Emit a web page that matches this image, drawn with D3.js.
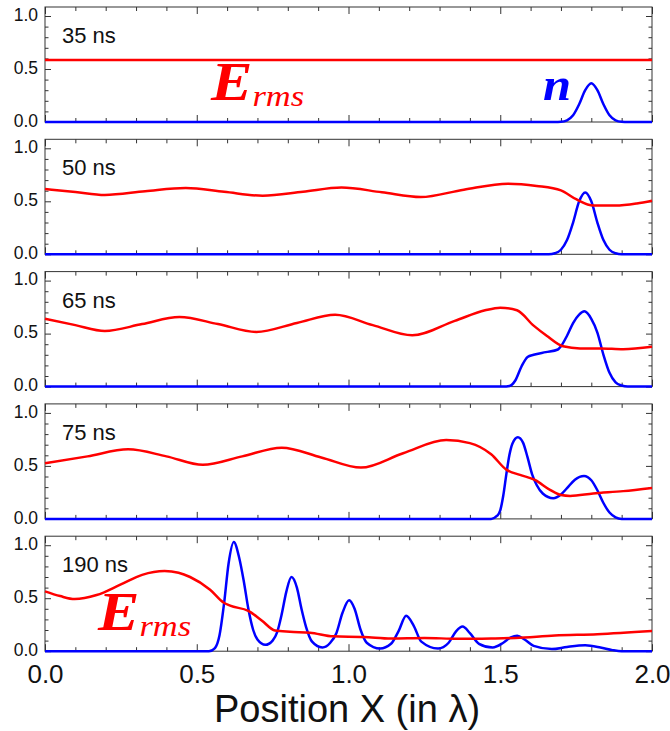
<!DOCTYPE html>
<html>
<head>
<meta charset="utf-8">
<script src="https://cdn.jsdelivr.net/npm/d3@7"></script>
<style>
  body { margin: 0; background: #fff; }
  svg { display: block; }
</style>
</head>
<body>
<div id="chart"></div>
<script>
// panel labels and tick values
const panelLabels = ["35 ns", "50 ns", "65 ns", "75 ns", "190 ns"];
const xTicks = [0, 0.5, 1, 1.5, 2];
const yTicks = [0, 0.5, 1];

// E_rms curves [x, value]
const e35 = [[0, 0.585], [0.5, 0.585], [1, 0.585], [1.5, 0.585], [2, 0.585]];
const e50 = [[0, 0.616], [0.1, 0.588], [0.197, 0.56], [0.33, 0.595], [0.464, 0.625], [0.59, 0.59],
  [0.717, 0.553], [0.85, 0.59], [0.977, 0.63], [1.11, 0.585], [1.238, 0.54], [1.38, 0.61],
  [1.526, 0.666], [1.62, 0.645], [1.70, 0.603], [1.75, 0.52], [1.807, 0.46], [1.88, 0.46],
  [1.95, 0.48], [2.0, 0.506]];
const e65 = [[0, 0.64], [0.1, 0.58], [0.197, 0.525], [0.32, 0.59], [0.443, 0.656], [0.57, 0.59],
  [0.696, 0.516], [0.83, 0.6], [0.956, 0.678], [1.08, 0.58], [1.21, 0.484], [1.35, 0.62],
  [1.45, 0.72], [1.50, 0.745], [1.555, 0.72], [1.61, 0.575], [1.653, 0.48], [1.707, 0.38],
  [1.763, 0.36], [1.83, 0.36], [1.905, 0.352], [2.0, 0.375]];
const e75 = [[0, 0.525], [0.14, 0.59], [0.274, 0.656], [0.4, 0.59], [0.52, 0.51], [0.65, 0.59],
  [0.78, 0.672], [0.91, 0.58], [1.041, 0.484], [1.18, 0.62], [1.322, 0.744], [1.40, 0.715],
  [1.47, 0.61], [1.52, 0.465], [1.565, 0.415], [1.614, 0.368], [1.664, 0.274], [1.70, 0.225],
  [1.73, 0.217], [1.806, 0.24], [1.905, 0.262], [2.0, 0.292]];
const e190 = [[0, 0.565], [0.05, 0.52], [0.098, 0.492], [0.17, 0.53], [0.25, 0.63], [0.32, 0.72],
  [0.394, 0.756], [0.44, 0.74], [0.478, 0.70], [0.544, 0.58], [0.588, 0.46], [0.61, 0.43],
  [0.67, 0.38], [0.714, 0.29], [0.758, 0.195], [0.807, 0.183], [0.873, 0.175], [0.95, 0.14],
  [1.05, 0.135], [1.14, 0.12], [1.25, 0.125], [1.36, 0.117], [1.47, 0.12], [1.55, 0.125],
  [1.68, 0.148], [1.82, 0.16], [2.0, 0.19]];

// density n curves [x, value]
const n35 = [[0, 0], [1.68, 0], [1.70, 0.002], [1.72, 0.016], [1.74, 0.063], [1.76, 0.167],
  [1.78, 0.30], [1.80, 0.365], [1.82, 0.30], [1.84, 0.167], [1.86, 0.063], [1.88, 0.016],
  [1.90, 0.002], [1.92, 0], [2, 0]];
const n50 = [[0, 0], [1.66, 0], [1.68, 0.01], [1.70, 0.043], [1.72, 0.134], [1.74, 0.30],
  [1.76, 0.50], [1.78, 0.584], [1.80, 0.50], [1.82, 0.30], [1.84, 0.134], [1.86, 0.043],
  [1.88, 0.01], [1.90, 0], [2, 0]];
const n65 = [[0, 0], [1.51, 0], [1.53, 0.005], [1.55, 0.06], [1.57, 0.19], [1.59, 0.28],
  [1.61, 0.30], [1.65, 0.325], [1.69, 0.35], [1.70, 0.38], [1.72, 0.48], [1.74, 0.60],
  [1.76, 0.68], [1.777, 0.71], [1.80, 0.64], [1.82, 0.51], [1.84, 0.30], [1.86, 0.13],
  [1.88, 0.04], [1.90, 0.01], [1.92, 0], [2, 0]];
const n75 = [[0, 0], [1.47, 0], [1.49, 0.03], [1.50, 0.08], [1.51, 0.22], [1.52, 0.42],
  [1.53, 0.60], [1.54, 0.71], [1.558, 0.77], [1.575, 0.72], [1.59, 0.58], [1.605, 0.42],
  [1.62, 0.32], [1.64, 0.24], [1.675, 0.195], [1.70, 0.23], [1.72, 0.29], [1.746, 0.37],
  [1.776, 0.405], [1.80, 0.365], [1.82, 0.27], [1.84, 0.15], [1.86, 0.06], [1.88, 0.015],
  [1.90, 0], [2, 0]];
const n190 = [[0, 0], [0.54, 0], [0.56, 0.03], [0.575, 0.15], [0.59, 0.45], [0.605, 0.83],
  [0.622, 1.03], [0.64, 0.88], [0.655, 0.66], [0.67, 0.40], [0.686, 0.20], [0.70, 0.11],
  [0.726, 0.06], [0.75, 0.10], [0.765, 0.18], [0.78, 0.35], [0.795, 0.56], [0.812, 0.70],
  [0.83, 0.60], [0.845, 0.40], [0.86, 0.23], [0.88, 0.09], [0.914, 0.035], [0.94, 0.08],
  [0.96, 0.17], [0.98, 0.36], [1.002, 0.48], [1.02, 0.40], [1.04, 0.20], [1.06, 0.08],
  [1.104, 0.025], [1.14, 0.07], [1.165, 0.19], [1.19, 0.335], [1.215, 0.24], [1.24, 0.09],
  [1.295, 0.025], [1.33, 0.08], [1.355, 0.19], [1.376, 0.232], [1.40, 0.17], [1.43, 0.07],
  [1.475, 0.035], [1.51, 0.08], [1.535, 0.13], [1.556, 0.145], [1.58, 0.11], [1.61, 0.05],
  [1.67, 0.02], [1.72, 0.04], [1.78, 0.055], [1.83, 0.035], [1.87, 0.01], [1.90, 0], [2.0, 0]];

const eSeries = [e35, e50, e65, e75, e190];
const nSeries = [n35, n50, n65, n75, n190];

// layout
const width = 670;
const height = 731;
const left = 45, right = 652;
const panelTop0 = 7, panelH = 115, panelStep = 132.3;
const sans = "Liberation Sans, Arial, Helvetica, sans-serif";
const serif = "Liberation Serif, Times New Roman, serif";

const svg = d3.select("#chart")
  .append("svg")
  .attr("width", width)
  .attr("height", height);

const x = d3.scaleLinear().domain([0, 2]).range([left, right]);

const xMinor = d3.range(0, 21).map(i => i / 10).filter(v => !xTicks.includes(v));
const yMinor = d3.range(0, 11).map(i => i / 10).filter(v => !yTicks.includes(v));

const line = (y) => d3.line()
  .x(d => x(d[0]))
  .y(d => y(d[1]))
  .curve(d3.curveMonotoneX);

function styleAxis(g) {
  g.select(".domain").remove();
  g.selectAll(".tick line").attr("stroke", "#333").attr("stroke-width", 1);
}

panelLabels.forEach((label, i) => {
  const top = panelTop0 + i * panelStep;
  const bottom = top + panelH;
  const y = d3.scaleLinear().domain([0, 1.085]).range([bottom, top]);
  const g = svg.append("g");

  // inward ticks on all four sides
  g.append("g").attr("transform", `translate(${left},0)`)
    .call(d3.axisLeft(y).tickValues(yTicks).tickFormat(d3.format(".1f")).tickSize(-6).tickPadding(7))
    .call(styleAxis)
    .call(a => a.selectAll("text")
      .attr("y", -1.5)
      .style("font-family", sans)
      .style("font-size", "17.5px")
      .attr("fill", "#111"));
  g.append("g").attr("transform", `translate(${left},0)`)
    .call(d3.axisLeft(y).tickValues(yMinor).tickFormat("").tickSize(-3.5))
    .call(styleAxis);
  g.append("g").attr("transform", `translate(${right},0)`)
    .call(d3.axisRight(y).tickValues(yTicks).tickFormat("").tickSize(-6))
    .call(styleAxis);
  g.append("g").attr("transform", `translate(${right},0)`)
    .call(d3.axisRight(y).tickValues(yMinor).tickFormat("").tickSize(-3.5))
    .call(styleAxis);
  g.append("g").attr("transform", `translate(0,${top})`)
    .call(d3.axisTop(x).tickValues(xTicks).tickFormat("").tickSize(-7))
    .call(styleAxis);
  g.append("g").attr("transform", `translate(0,${top})`)
    .call(d3.axisTop(x).tickValues(xMinor).tickFormat("").tickSize(-4))
    .call(styleAxis);

  const xb = d3.axisBottom(x).tickValues(xTicks).tickSize(-7).tickPadding(13)
    .tickFormat(i === panelLabels.length - 1 ? d3.format(".1f") : "");
  g.append("g").attr("transform", `translate(0,${bottom})`)
    .call(xb)
    .call(styleAxis)
    .call(a => a.selectAll("text")
      .style("font-family", sans)
      .style("font-size", "26px")
      .attr("fill", "#111"));
  g.append("g").attr("transform", `translate(0,${bottom})`)
    .call(d3.axisBottom(x).tickValues(xMinor).tickFormat("").tickSize(-4))
    .call(styleAxis);

  // frame
  g.append("rect")
    .attr("x", left).attr("y", top)
    .attr("width", right - left).attr("height", panelH)
    .attr("fill", "none")
    .attr("stroke", "#333")
    .attr("stroke-width", 1);

  // curves
  g.append("path")
    .datum(nSeries[i])
    .attr("d", line(y))
    .attr("fill", "none")
    .attr("stroke", "#0000ff")
    .attr("stroke-width", 2.5);
  g.append("path")
    .datum(eSeries[i])
    .attr("d", line(y))
    .attr("fill", "none")
    .attr("stroke", "#ff0000")
    .attr("stroke-width", 2.5);

  // time label
  g.append("text")
    .attr("x", 62)
    .attr("y", top + 36)
    .style("font-family", sans)
    .style("font-size", "22px")
    .attr("fill", "#111")
    .text(label);
});

// E_rms and n annotations
function ermsLabel(px, py) {
  const t = svg.append("text")
    .attr("transform", `translate(${px},${py}) scale(1.15,1)`)
    .style("font-family", serif)
    .style("font-style", "italic")
    .attr("fill", "#ff0000");
  t.append("tspan").style("font-weight", "bold").style("font-size", "54px").text("E");
  t.append("tspan").attr("dy", 6).style("font-size", "30px").text("rms");
}
ermsLabel(211, 100);
ermsLabel(98, 630);

svg.append("text")
  .attr("transform", "translate(543,100) scale(1.1,1)")
  .style("font-family", serif)
  .style("font-style", "italic")
  .style("font-weight", "bold")
  .style("font-size", "46px")
  .attr("fill", "#0000ff")
  .text("n");

// x axis title
svg.append("text")
  .attr("x", 347)
  .attr("y", 722)
  .attr("text-anchor", "middle")
  .style("font-family", sans)
  .style("font-size", "38px")
  .attr("fill", "#111")
  .text("Position X (in λ)");
</script>
</body>
</html>
